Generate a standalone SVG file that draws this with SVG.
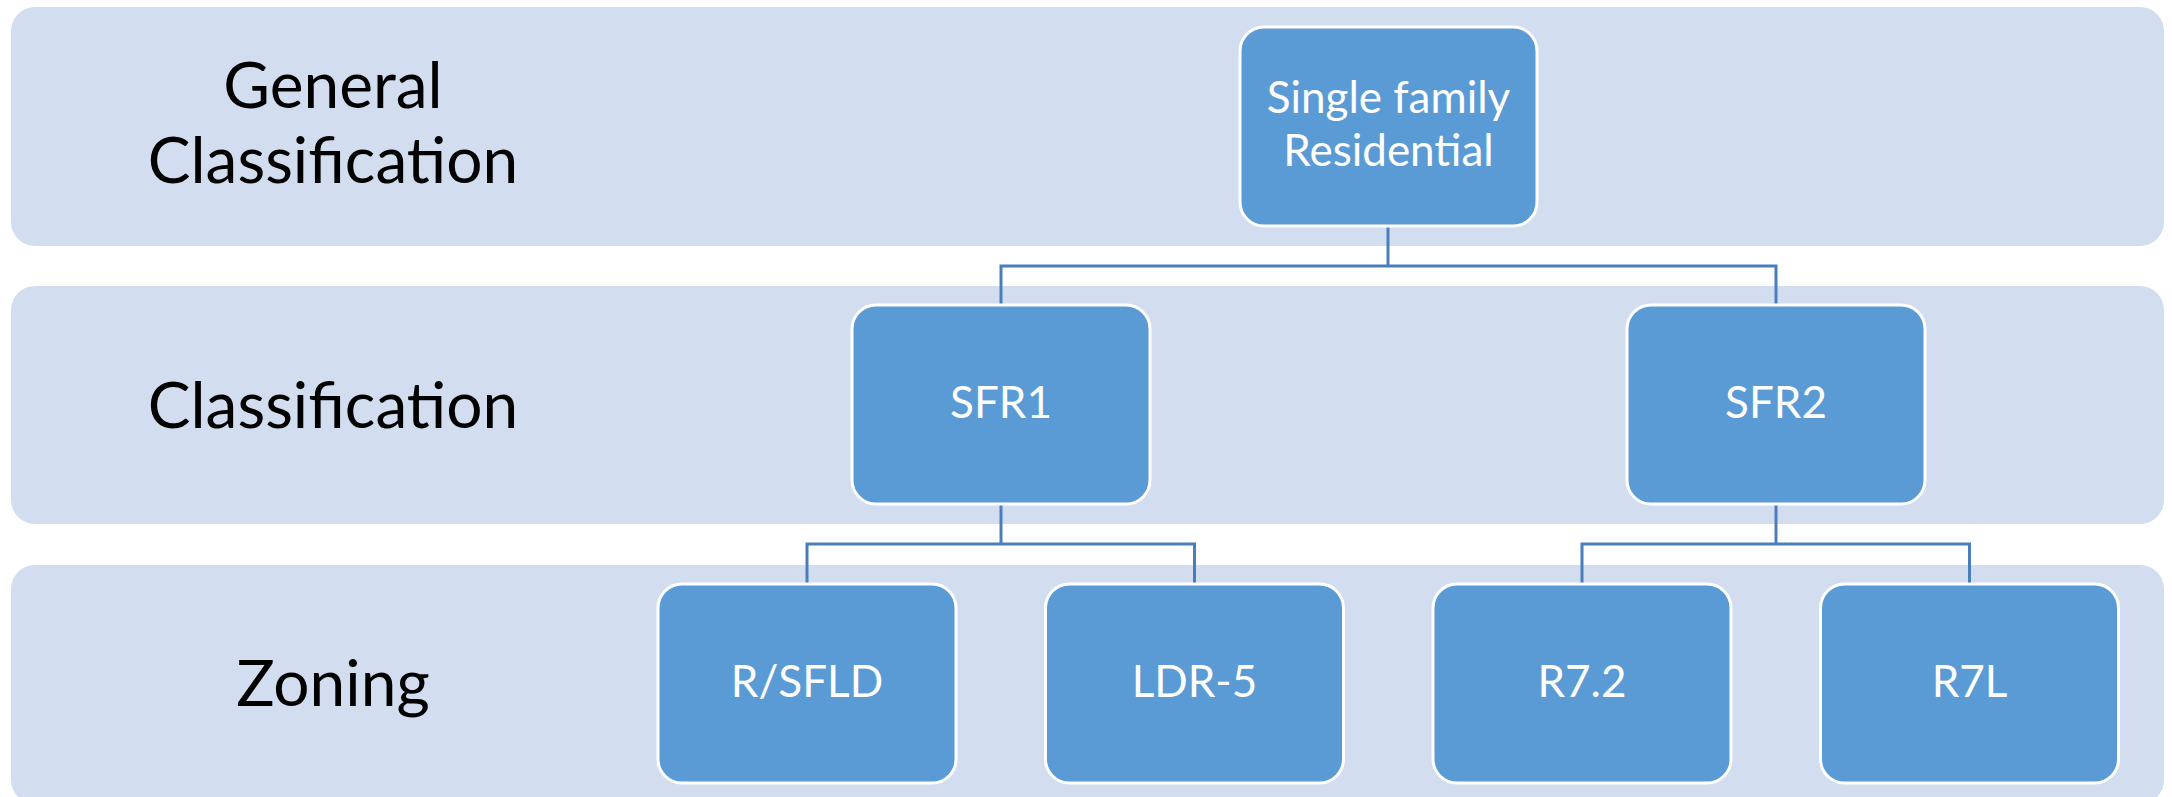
<svg xmlns="http://www.w3.org/2000/svg" width="2172" height="797" viewBox="0 0 2172 797">
<style>
.band{fill:#D2DEEF;}
.node{fill:#5B9BD5;stroke:#FFFFFF;stroke-width:3;}
.lbl{font-family:Lato,"Open Sans","Liberation Sans",sans-serif;font-size:64px;fill:#000000;text-anchor:middle;}
.txt{font-family:Lato,"Open Sans","Liberation Sans",sans-serif;font-size:44px;fill:#FFFFFF;text-anchor:middle;}
.conn{fill:none;stroke:#4A7EBB;stroke-width:3;}
</style>
<rect width="2172" height="797" fill="#FFFFFF"/>
<g id="band-general">
<rect class="band" x="11" y="7" width="2153" height="239" rx="24"/>
<text class="lbl" x="333" y="108">General</text>
<text class="lbl" x="333" y="183">Classification</text>
</g>
<g id="band-classification">
<rect class="band" x="11" y="286" width="2153" height="238" rx="24"/>
<text class="lbl" x="333" y="428">Classification</text>
</g>
<g id="band-zoning">
<rect class="band" x="11" y="565" width="2153" height="239" rx="24"/>
<text class="lbl" x="333" y="706">Zoning</text>
</g>
<g id="connectors">
<path class="conn" d="M1388 226 V266"/>
<path class="conn" d="M1001 305 V266 H1776 V305"/>
<path class="conn" d="M1001 504 V544"/>
<path class="conn" d="M807 584 V544 H1194.5 V584"/>
<path class="conn" d="M1776 504 V544"/>
<path class="conn" d="M1582 584 V544 H1969.5 V584"/>
</g>
<g id="node-sfr">
<rect class="node" x="1240" y="27" width="297" height="199" rx="24"/>
<text class="txt" x="1388.5" y="113">Single family</text>
<text class="txt" x="1388.5" y="166">Residential</text>
</g>
<g id="node-sfr1">
<rect class="node" x="852" y="305" width="298" height="199" rx="24"/>
<text class="txt" x="1001" y="418">SFR1</text>
</g>
<g id="node-sfr2">
<rect class="node" x="1627" y="305" width="298" height="199" rx="24"/>
<text class="txt" x="1776" y="418">SFR2</text>
</g>
<g id="node-rsfld">
<rect class="node" x="658" y="584" width="298" height="199" rx="24"/>
<text class="txt" x="807" y="697">R/SFLD</text>
</g>
<g id="node-ldr5">
<rect class="node" x="1045.5" y="584" width="298" height="199" rx="24"/>
<text class="txt" x="1194.5" y="697">LDR-5</text>
</g>
<g id="node-r72">
<rect class="node" x="1433" y="584" width="298" height="199" rx="24"/>
<text class="txt" x="1582" y="697">R7.2</text>
</g>
<g id="node-r7l">
<rect class="node" x="1820.5" y="584" width="298" height="199" rx="24"/>
<text class="txt" x="1969.5" y="697">R7L</text>
</g>
</svg>
